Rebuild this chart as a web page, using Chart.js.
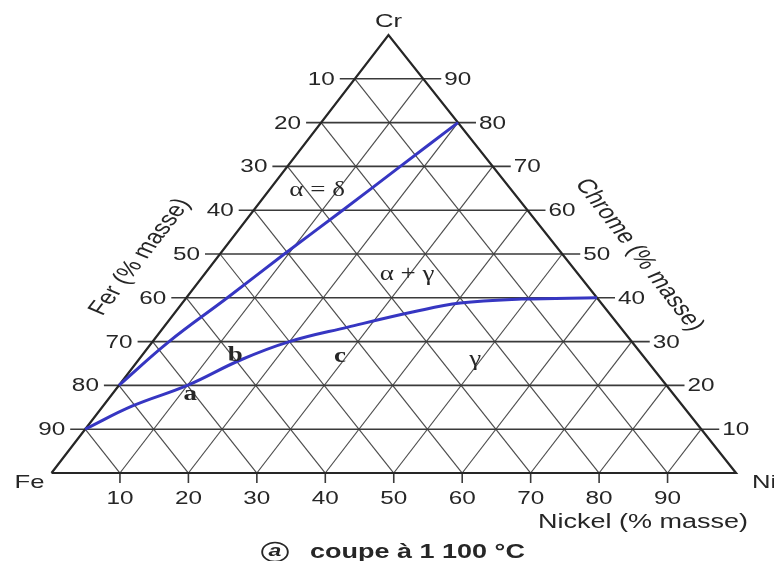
<!DOCTYPE html>
<html>
<head>
<meta charset="utf-8">
<script src="https://cdn.jsdelivr.net/npm/chart.js@4.4.1/dist/chart.umd.min.js"></script>
<style>
  html, body { margin: 0; padding: 0; background: #ffffff; }
  canvas { display: block; }
</style>
</head>
<body>
<canvas id="chart" width="774" height="561"></canvas>
<script>
// Fe–Cr–Ni ternary diagram, isothermal section at 1 100 °C

// grid / tick values (% masse)
const gridSteps = [10, 20, 30, 40, 50, 60, 70, 80, 90];
const nickelTickLabels = ['10', '20', '30', '40', '50', '60', '70', '80', '90'];
const chromeTickLabels = ['10', '20', '30', '40', '50', '60', '70', '80', '90'];
const ferTickLabels    = ['90', '80', '70', '60', '50', '40', '30', '20', '10'];

// alpha (= delta) / alpha + gamma boundary
const alphaLimitNi = [0, 2.4, 6.0, 9.4, 13.0, 16.5, 20.0];
const alphaLimitCr = [20, 30, 40, 50, 60, 70, 80];

// alpha + gamma / gamma boundary
const gammaLimitNi = [0, 4.3, 10.0, 14.9, 20.0, 26.9, 34.8, 40.6, 49.1, 60.0];
const gammaLimitCr = [10, 15.3, 20.0, 25.8, 30.0, 33.3, 36.8, 38.8, 39.7, 40.0];

// region names and point labels, placed by composition (Ni, Cr)
const regionText  = ['\u03B1 = \u03B4', '\u03B1 + \u03B3', '\u03B3', 'a', 'b', 'c'];
const regionNi    = [7.1, 29.7, 49.2, 11.5, 13.7, 29.1];
const regionCr    = [64.4, 45.2, 25.8, 17.8, 26.7, 26.5];
const regionBold  = [false, false, false, true, true, true];

// projection of (Ni, Cr) onto the plane of the triangle
const APEX_SHIFT = 0.4923;
function toXY(ni, cr) { return { x: ni + APEX_SHIFT * cr, y: cr }; }

const TEXT_STRETCH = 1.35;
const INK = '#262626';

function drawText(ctx, s, x, y, font, align, baseline, angle) {
  ctx.save();
  ctx.translate(x, y);
  ctx.scale(TEXT_STRETCH, 1);
  if (angle) ctx.rotate(angle);
  ctx.font = font;
  ctx.textAlign = align;
  ctx.textBaseline = baseline;
  ctx.fillStyle = INK;
  ctx.fillText(s, 0, 0);
  ctx.restore();
}

const ternaryPlugin = {
  id: 'ternaryGrid',
  beforeDatasetsDraw(chart) {
    const { ctx, scales } = chart;
    const px = (ni, cr) => { const p = toXY(ni, cr); return [scales.x.getPixelForValue(p.x), scales.y.getPixelForValue(p.y)]; };
    const seg = (a, b) => { ctx.beginPath(); ctx.moveTo(a[0], a[1]); ctx.lineTo(b[0], b[1]); ctx.stroke(); };

    ctx.save();
    ctx.lineCap = 'butt';
    // lines of constant nickel (parallel to Fe–Cr side) and constant iron (parallel to Ni–Cr side)
    ctx.strokeStyle = '#4d4d4d';
    ctx.lineWidth = 1.2;
    gridSteps.forEach(v => {
      seg(px(v, 0), px(v, 100 - v));
      seg(px(100 - v, 0), px(0, 100 - v));
    });
    // lines of constant chromium, extended past both sides as ticks
    ctx.strokeStyle = '#3a3a3a';
    ctx.lineWidth = 1.6;
    gridSteps.forEach(v => {
      const l = px(0, v), r = px(100 - v, v);
      seg([l[0] - 15, l[1]], [r[0] + 18, r[1]]);
    });
    // nickel ticks under the base
    ctx.lineWidth = 1.6;
    gridSteps.forEach(v => {
      const b = px(v, 0);
      seg(b, [b[0], b[1] + 10]);
    });
    ctx.restore();
  },
  afterDatasetsDraw(chart) {
    const { ctx, scales } = chart;
    const px = (ni, cr) => { const p = toXY(ni, cr); return [scales.x.getPixelForValue(p.x), scales.y.getPixelForValue(p.y)]; };
    const num = '18px "Liberation Sans", Arial, sans-serif';
    const title = '20px "Liberation Sans", Arial, sans-serif';

    gridSteps.forEach((v, i) => {
      const l = px(0, v), r = px(100 - v, v), b = px(v, 0);
      drawText(ctx, ferTickLabels[i], l[0] - 20, l[1] + 1, num, 'right', 'middle');
      drawText(ctx, chromeTickLabels[i], r[0] + 21, r[1] + 1, num, 'left', 'middle');
      drawText(ctx, nickelTickLabels[i], b[0], b[1] + 26, num, 'center', 'middle');
    });

    // corner labels
    const fe = px(0, 0), ni = px(100, 0), cr = px(0, 100);
    const corner = '19px "Liberation Sans", Arial, sans-serif';
    drawText(ctx, 'Cr', cr[0], cr[1] - 13, corner, 'center', 'middle');
    drawText(ctx, 'Fe', fe[0] - 22, fe[1] + 10, corner, 'center', 'middle');
    drawText(ctx, 'Ni', ni[0] + 28, ni[1] + 10, corner, 'center', 'middle');

    // axis titles
    drawText(ctx, 'Fer (% masse)', 140, 257, title, 'center', 'middle', -Math.PI / 3);
    drawText(ctx, 'Chrome (% masse)', 639, 255, title, 'center', 'middle', Math.PI / 3);
    drawText(ctx, 'Nickel (% masse)', 748, 522, title, 'right', 'middle');

    // region names and points
    regionText.forEach((s, i) => {
      const p = px(regionNi[i], regionCr[i]);
      const f = (regionBold[i] ? 'bold ' : '') + '20px "Liberation Serif", "Times New Roman", serif';
      drawText(ctx, s, p[0], p[1], f, 'center', 'middle');
    });

    // caption
    ctx.save();
    ctx.translate(275, 552);
    ctx.scale(TEXT_STRETCH, 1);
    ctx.beginPath();
    ctx.arc(0, 0, 9.5, 0, Math.PI * 2);
    ctx.strokeStyle = INK;
    ctx.lineWidth = 1.4;
    ctx.stroke();
    ctx.restore();
    drawText(ctx, 'a', 275, 551, 'italic bold 17px "Liberation Sans", Arial, sans-serif', 'center', 'middle');
    drawText(ctx, 'coupe \u00E0 1 100 \u00B0C', 310, 552, 'bold 20px "Liberation Sans", Arial, sans-serif', 'left', 'middle');
  }
};

const outline = [toXY(0, 0), toXY(100, 0), toXY(0, 100), toXY(0, 0)];
const alphaLimit = alphaLimitNi.map((n, i) => toXY(n, alphaLimitCr[i]));
const gammaLimit = gammaLimitNi.map((n, i) => toXY(n, gammaLimitCr[i]));

new Chart(document.getElementById('chart'), {
  type: 'scatter',
  data: {
    datasets: [
      { data: outline, showLine: true, borderColor: '#262626', borderWidth: 2.2, pointRadius: 0, tension: 0, order: 3 },
      { data: alphaLimit, showLine: true, borderColor: '#3636c2', borderWidth: 3, pointRadius: 0,
        tension: 0.4, order: 1 },
      { data: gammaLimit, showLine: true, borderColor: '#3636c2', borderWidth: 3, pointRadius: 0,
        tension: 0.4, order: 1 }
    ]
  },
  options: {
    responsive: false,
    animation: false,
    devicePixelRatio: 1,
    layout: { padding: 0 },
    plugins: { legend: { display: false }, tooltip: { enabled: false } },
    scales: {
      x: { type: 'linear', display: false, min: -7.524, max: 105.55 },
      y: { type: 'linear', display: false, min: -20.09, max: 107.99 }
    }
  },
  plugins: [ternaryPlugin]
});
</script>
</body>
</html>
